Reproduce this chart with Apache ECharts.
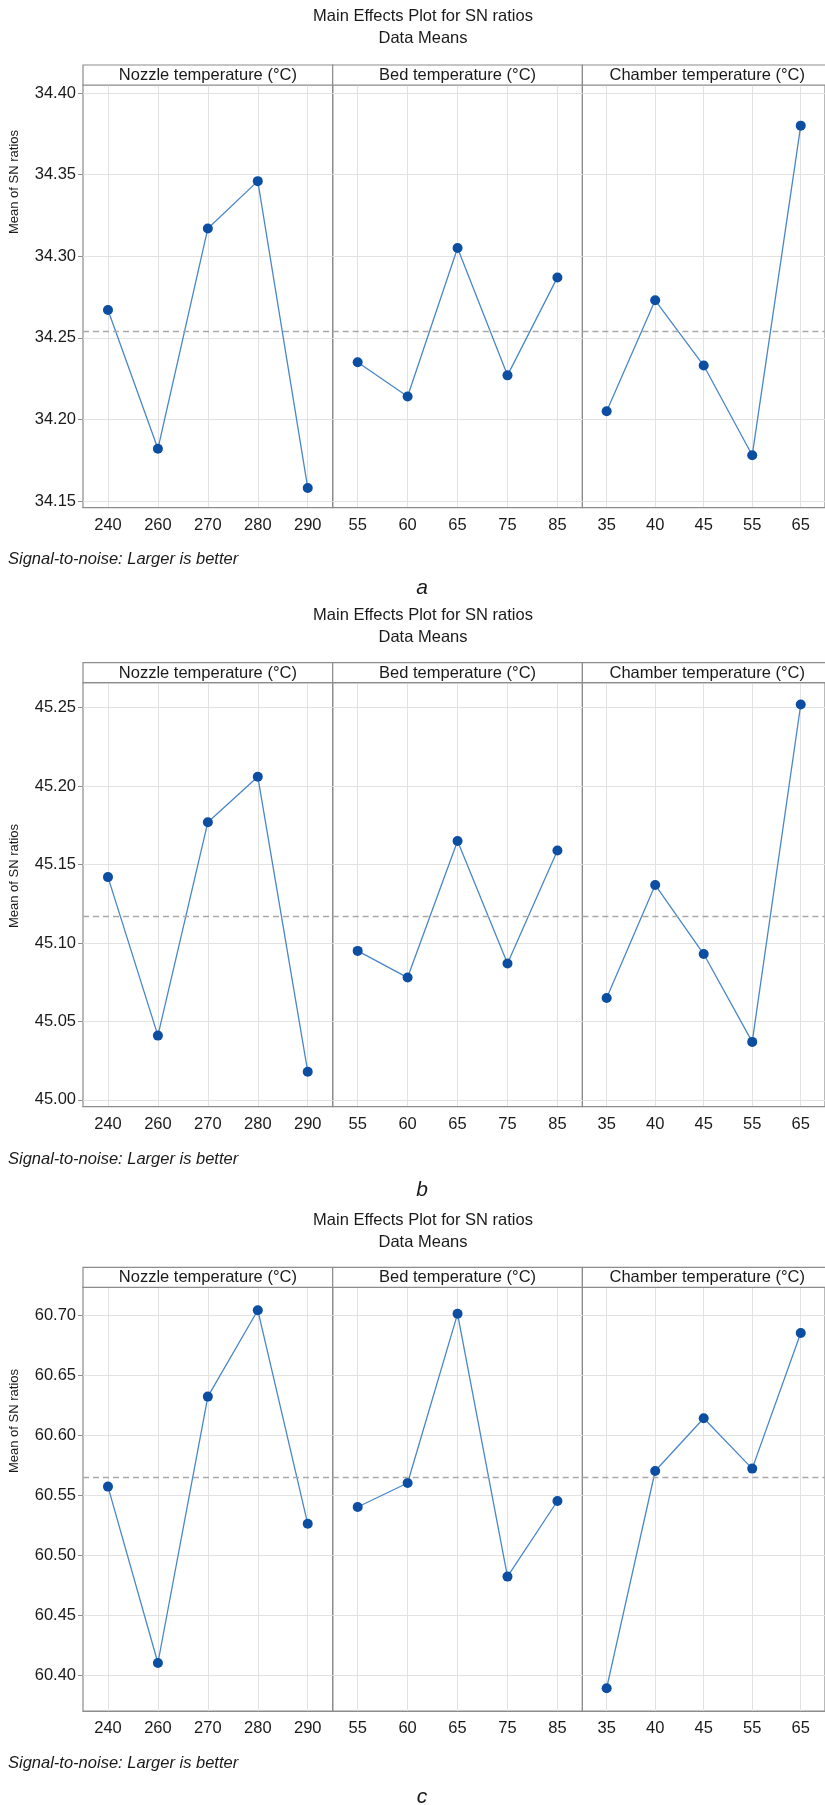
<!DOCTYPE html>
<html lang="en">
<head>
<meta charset="UTF-8">
<script src="https://cdn.jsdelivr.net/npm/echarts@6/dist/echarts.min.js"></script>
<title>Main Effects Plot for SN ratios</title>
<style>
    body { margin: 0; padding: 0; background: #fff; }
    #main { width: 825px; height: 1805px; }
</style>
</head>
<body>
<div id="main"></div>
<script>
    var factorNames = ['Nozzle temperature (°C)', 'Bed temperature (°C)', 'Chamber temperature (°C)'];
    var nozzleLevels = ['240', '260', '270', '280', '290'];
    var bedLevels = ['55', '60', '65', '75', '85'];
    var chamberLevels = ['35', '40', '45', '55', '65'];

    // a
    var nozzleA = [34.267, 34.182, 34.317, 34.346, 34.158];
    var bedA = [34.235, 34.214, 34.305, 34.227, 34.287];
    var chamberA = [34.205, 34.273, 34.233, 34.178, 34.380];
    var meanA = 34.254;
    var ticksA = [34.15, 34.20, 34.25, 34.30, 34.35, 34.40];

    // b
    var nozzleB = [45.142, 45.041, 45.177, 45.206, 45.018];
    var bedB = [45.095, 45.078, 45.165, 45.087, 45.159];
    var chamberB = [45.065, 45.137, 45.093, 45.037, 45.252];
    var meanB = 45.117;
    var ticksB = [45.00, 45.05, 45.10, 45.15, 45.20, 45.25];

    // c
    var nozzleC = [60.557, 60.410, 60.632, 60.704, 60.526];
    var bedC = [60.540, 60.560, 60.701, 60.482, 60.545];
    var chamberC = [60.389, 60.570, 60.614, 60.572, 60.685];
    var meanC = 60.565;
    var ticksC = [60.40, 60.45, 60.50, 60.55, 60.60, 60.65, 60.70];

    var levels = [nozzleLevels, bedLevels, chamberLevels];

    // layout of the three stacked plots
    var plots = [
        {tag: 'a', data: [nozzleA, bedA, chamberA], mean: meanA, ticks: ticksA, min: 34.1459, max: 34.4049,
         titleY: 16, headY: 65, top: 85, bottom: 507.7, noteY: 559, tagY: 588, nameY: 182},
        {tag: 'b', data: [nozzleB, bedB, chamberB], mean: meanB, ticks: ticksB, min: 44.9957, max: 45.2659,
         titleY: 615, headY: 662.7, top: 682.7, bottom: 1106.7, noteY: 1159, tagY: 1190, nameY: 876},
        {tag: 'c', data: [nozzleC, bedC, chamberC], mean: meanC, ticks: ticksC, min: 60.370, max: 60.7231,
         titleY: 1220, headY: 1267.3, top: 1287.3, bottom: 1711, noteY: 1763, tagY: 1797, nameY: 1421}
    ];

    var FONT = '"Liberation Sans", Arial, sans-serif';
    var frameColor = '#8c8c8c';
    var gridColor = '#e2e2e2';
    var panelLeft = 83, panelW = 249.7;

    function txt(x, y, s, opt) {
        opt = opt || {};
        return {
            type: 'text', x: x, y: y, rotation: opt.rotation || 0, z: 100,
            style: {
                text: s,
                font: (opt.style || 'normal') + ' ' + (opt.size || 16.5) + 'px ' + FONT,
                fill: opt.color || '#1a1a1a',
                textAlign: opt.align || 'center', align: opt.align || 'center',
                textVerticalAlign: 'middle', verticalAlign: 'middle'
            }
        };
    }

    var grids = [], xAxes = [], yAxes = [], series = [], graphics = [];

    plots.forEach(function (p, k) {
        graphics.push(txt(423, p.titleY, 'Main Effects Plot for SN ratios'));
        graphics.push(txt(423, p.titleY + 22, 'Data Means'));
        graphics.push(txt(8, p.noteY, 'Signal-to-noise: Larger is better', {style: 'italic', align: 'left'}));
        graphics.push(txt(422, p.tagY, p.tag, {style: 'italic', size: 21}));
        graphics.push(txt(14, p.nameY, 'Mean of SN ratios', {rotation: Math.PI / 2, size: 13}));

        for (var j = 0; j < 3; j++) {
            var idx = k * 3 + j;
            var left = panelLeft + j * panelW;
            graphics.push({
                type: 'rect', z: 90,
                shape: {x: left, y: p.headY, width: panelW, height: p.top - p.headY},
                style: {fill: '#fff', stroke: frameColor, lineWidth: 1.2}
            });
            graphics.push(txt(left + panelW / 2, p.headY + 10.5, factorNames[j]));

            grids.push({
                left: left, width: panelW, top: p.top, height: p.bottom - p.top,
                show: true, borderColor: frameColor, borderWidth: 1.2, backgroundColor: 'transparent'
            });
            xAxes.push({
                type: 'category', gridIndex: idx, data: levels[j], boundaryGap: true,
                axisLine: {lineStyle: {color: frameColor, width: 1.2}},
                axisTick: {show: false, alignWithLabel: true},
                axisLabel: {fontSize: 16.5, color: '#1a1a1a', fontFamily: FONT, margin: 9},
                splitLine: {show: true, alignWithLabel: true, lineStyle: {color: gridColor, width: 1}}
            });
            yAxes.push({
                type: 'value', gridIndex: idx, min: p.min, max: p.max,
                axisLine: {show: false},
                axisTick: {show: j === 0, length: 5, customValues: p.ticks, lineStyle: {color: frameColor}},
                axisLabel: {
                    show: j === 0, customValues: p.ticks, fontSize: 16.5, color: '#1a1a1a', fontFamily: FONT, margin: 7,
                    formatter: function (v) { return v.toFixed(2); }
                },
                splitLine: {show: true, lineStyle: {color: gridColor, width: 1}}
            });
            series.push({
                type: 'line', xAxisIndex: idx, yAxisIndex: idx, data: p.data[j],
                symbol: 'circle', symbolSize: 10,
                itemStyle: {color: '#0b4ea2'},
                lineStyle: {color: '#4a87c9', width: 1.3},
                markLine: {
                    silent: true, precision: 4, symbol: ['none', 'none'], label: {show: false},
                    lineStyle: {color: '#a8a8a8', type: [6, 4], width: 1.3},
                    data: [{yAxis: p.mean}]
                }
            });
        }
    });

    var chart = echarts.init(document.getElementById('main'));
    chart.setOption({
        animation: false,
        backgroundColor: '#fff',
        grid: grids,
        xAxis: xAxes,
        yAxis: yAxes,
        series: series,
        graphic: graphics
    });
</script>
</body>
</html>
